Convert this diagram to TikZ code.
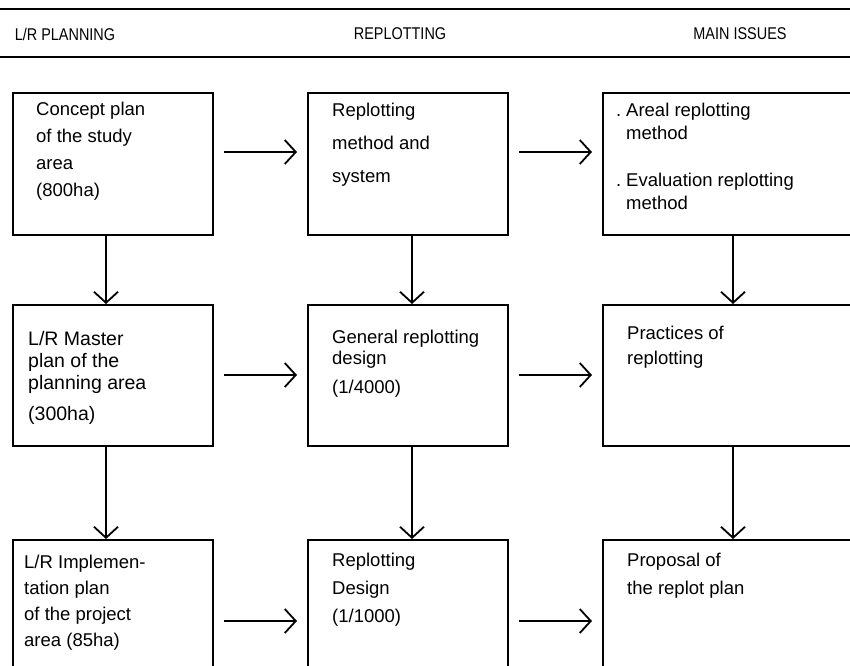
\documentclass[tikz,border=0pt]{standalone}
\usepackage{fontspec}
\setmainfont{Liberation Sans}
\newfontfamily\headfont[FakeStretch=0.85]{Liberation Sans}
\usetikzlibrary{arrows.meta}
\begin{document}
\begin{tikzpicture}[x=1pt,y=-1pt,
  hrule/.style={line width=1.8pt},
  box/.style={draw, line width=1.8pt, inner sep=0pt, anchor=north west},
  txt/.style={anchor=north west, inner sep=0pt, align=left,
              font=\fontsize{18.5}{#1}\selectfont},
  bigtxt/.style={txt=#1, font=\fontsize{19.5}{#1}\selectfont},
  colhead/.style={inner sep=0pt, font=\headfont\fontsize{17}{20}\selectfont},
  flow/.style={line width=1.8pt,
               -{Straight Barb[length=11pt,width=24pt,line width=1.8pt]}},
  across/.style={flow, shorten <=10pt, shorten >=10pt},
]
\useasboundingbox (0,0) rectangle (850,665);
\clip (0,0) rectangle (850,665);

% column headings between two rules
\coordinate (rtl) at (0,9);   \coordinate (rtr) at (850,9);
\coordinate (rbl) at (0,57);  \coordinate (rbr) at (850,57);
\draw[hrule] (rtl) -- (rtr);
\draw[hrule] (rbl) -- (rbr);
\node[colhead] (h1) at (65,34)  {L/R PLANNING};
\node[colhead] (h2) at (400,34) {REPLOTTING};
\node[colhead] (h3) at (740,34) {MAIN ISSUES};

% boxes: three rows by three columns
\node[box, minimum width=200pt, minimum height=142pt] (b11) at (12,92)  {};
\node[box, minimum width=200pt, minimum height=142pt] (b12) at (307,92) {};
\node[box, minimum width=270pt, minimum height=142pt] (b13) at (602,92) {};
\node[box, minimum width=200pt, minimum height=141pt] (b21) at (12,304)  {};
\node[box, minimum width=200pt, minimum height=141pt] (b22) at (307,304) {};
\node[box, minimum width=270pt, minimum height=141pt] (b23) at (602,304) {};
\node[box, minimum width=200pt, minimum height=160pt] (b31) at (12,539)  {};
\node[box, minimum width=200pt, minimum height=160pt] (b32) at (307,539) {};
\node[box, minimum width=270pt, minimum height=160pt] (b33) at (602,539) {};

% box texts
\node[txt=27] (t11) at (36,102)  {Concept plan\\of the study\\area\\(800ha)};
\node[txt=33] (t12) at (332,103) {Replotting\\method and\\system};
\node[txt=23] (t13) at (616,103)
  {\makebox[10pt][l]{.}Areal replotting\\\hspace*{10pt}method\\[24pt]
   \makebox[10pt][l]{.}Evaluation replotting\\\hspace*{10pt}method};
\node[bigtxt=22] (t21) at (28,331) {L/R Master\\plan of the\\planning area\\[9pt](300ha)};
\node[txt=21] (t22) at (332,330) {General replotting\\design\\[8pt](1/4000)};
\node[txt=25] (t23) at (627,326) {Practices of\\replotting};
\node[txt=26] (t31) at (24,555)  {L/R Implemen-\\tation plan\\of the project\\area (85ha)};
\node[txt=28] (t32) at (332,553) {Replotting\\Design\\(1/1000)};
\node[txt=28] (t33) at (627,553) {Proposal of\\the replot plan};

% connector positions
\coordinate (c1) at (106,0);
\coordinate (c2) at (412,0);
\coordinate (c3) at (733,0);
\coordinate (r1) at (0,152);
\coordinate (r2) at (0,375);
\coordinate (r3) at (0,621);

% downward connectors
\draw[flow] (b11.south -| c1) -- (b21.north -| c1);
\draw[flow] (b21.south -| c1) -- (b31.north -| c1);
\draw[flow] (b12.south -| c2) -- (b22.north -| c2);
\draw[flow] (b22.south -| c2) -- (b32.north -| c2);
\draw[flow] (b13.south -| c3) -- (b23.north -| c3);
\draw[flow] (b23.south -| c3) -- (b33.north -| c3);

% connectors across the columns
\draw[across] (b11.east |- r1) -- (b12.west |- r1);
\draw[across] (b12.east |- r1) -- (b13.west |- r1);
\draw[across] (b21.east |- r2) -- (b22.west |- r2);
\draw[across] (b22.east |- r2) -- (b23.west |- r2);
\draw[across] (b31.east |- r3) -- (b32.west |- r3);
\draw[across] (b32.east |- r3) -- (b33.west |- r3);
\end{tikzpicture}
\end{document}
